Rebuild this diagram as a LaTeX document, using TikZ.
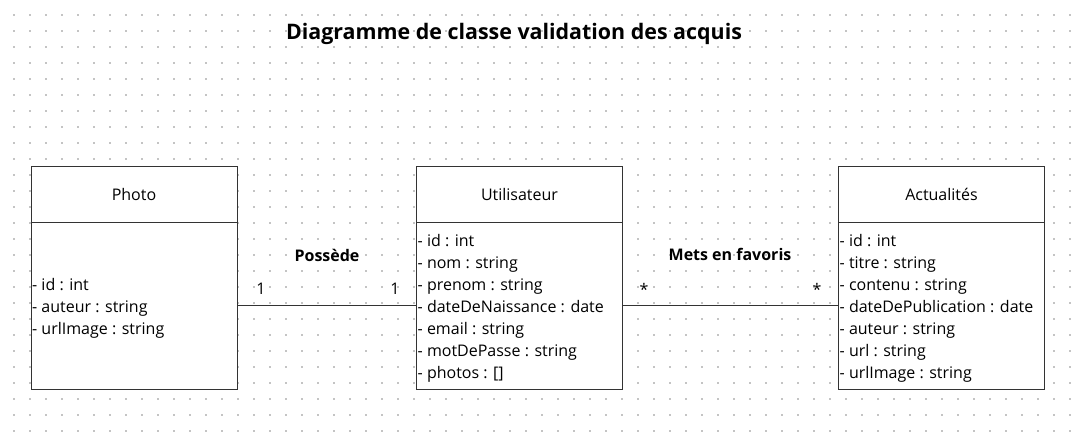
\documentclass[tikz,border=0pt]{standalone}
\usepackage{fontspec}
\setmainfont{Open Sans}
\usepackage{xcolor}
\usepackage{tikz}
\definecolor{UMLLine}{HTML}{333333}
\definecolor{UMLDot}{HTML}{C4C4C4}
\tikzset{
  classhead/.style={draw=UMLLine,fill=white,line width=1pt,minimum width=206pt,minimum height=56pt,inner sep=0pt,font=\fontsize{16}{18}\selectfont},
  classbody/.style={draw=UMLLine,fill=white,line width=1pt,minimum width=206pt,minimum height=167pt,inner sep=0pt},
  attrs/.style={anchor=west,align=left,inner sep=1.5pt,yshift=-2.5pt,font=\fontsize{16}{22}\selectfont},
  assoc/.style={font=\bfseries\fontsize{16}{18}\selectfont},
  mult/.style={font=\fontsize{16}{18}\selectfont}
}

\begin{document}
\begin{tikzpicture}[x=1pt,y=-1pt]
\path[use as bounding box] (0,0) rectangle (1074,436);
\fill[white] (0,0) rectangle (1074,436);
\foreach \i in {0,...,66}
  \foreach \j in {0,...,26}
    \fill[UMLDot] (13.25+16*\i,14.25+16*\j) rectangle ++(1.5,1.5);
\node[font=\bfseries\fontsize{21.4}{24}\selectfont] (title) at (514,34) {Diagramme de classe validation des acquis};
% classes
\node[classhead] (photoHead) at (134,194) {Photo};
\node[classbody] (photoBody) at (134,305.5) {};
\node[attrs] (photoAttrs) at (photoBody.west) {- id : int\\- auteur : string\\- urlImage : string};
\node[classhead] (userHead) at (519.5,194) {Utilisateur};
\node[classbody] (userBody) at (519.5,305.5) {};
\node[attrs] (userAttrs) at (userBody.west) {- id : int\\- nom : string\\- prenom : string\\- dateDeNaissance : date\\- email : string\\- motDePasse : string\\- photos : []};
\node[classhead] (newsHead) at (941.5,194) {Actualités};
\node[classbody] (newsBody) at (941.5,305.5) {};
\node[attrs] (newsAttrs) at (newsBody.west) {- id : int\\- titre : string\\- contenu : string\\- dateDePublication : date\\- auteur : string\\- url : string\\- urlImage : string};
% associations
\draw[UMLLine,line width=1pt] (photoBody) -- (userBody);
\draw[UMLLine,line width=1pt] (userBody) -- (newsBody);
\node[assoc] (possede) at (327,255) {Possède};
\node[mult] (photoMult) at (261,289) {1};
\node[mult] (userMult) at (395,289) {1};
\node[assoc] (favoris) at (730,254) {Mets en favoris};
\node[mult] (userFav) at (644,289) {*};
\node[mult] (newsFav) at (817,289) {*};
\end{tikzpicture}
\end{document}
